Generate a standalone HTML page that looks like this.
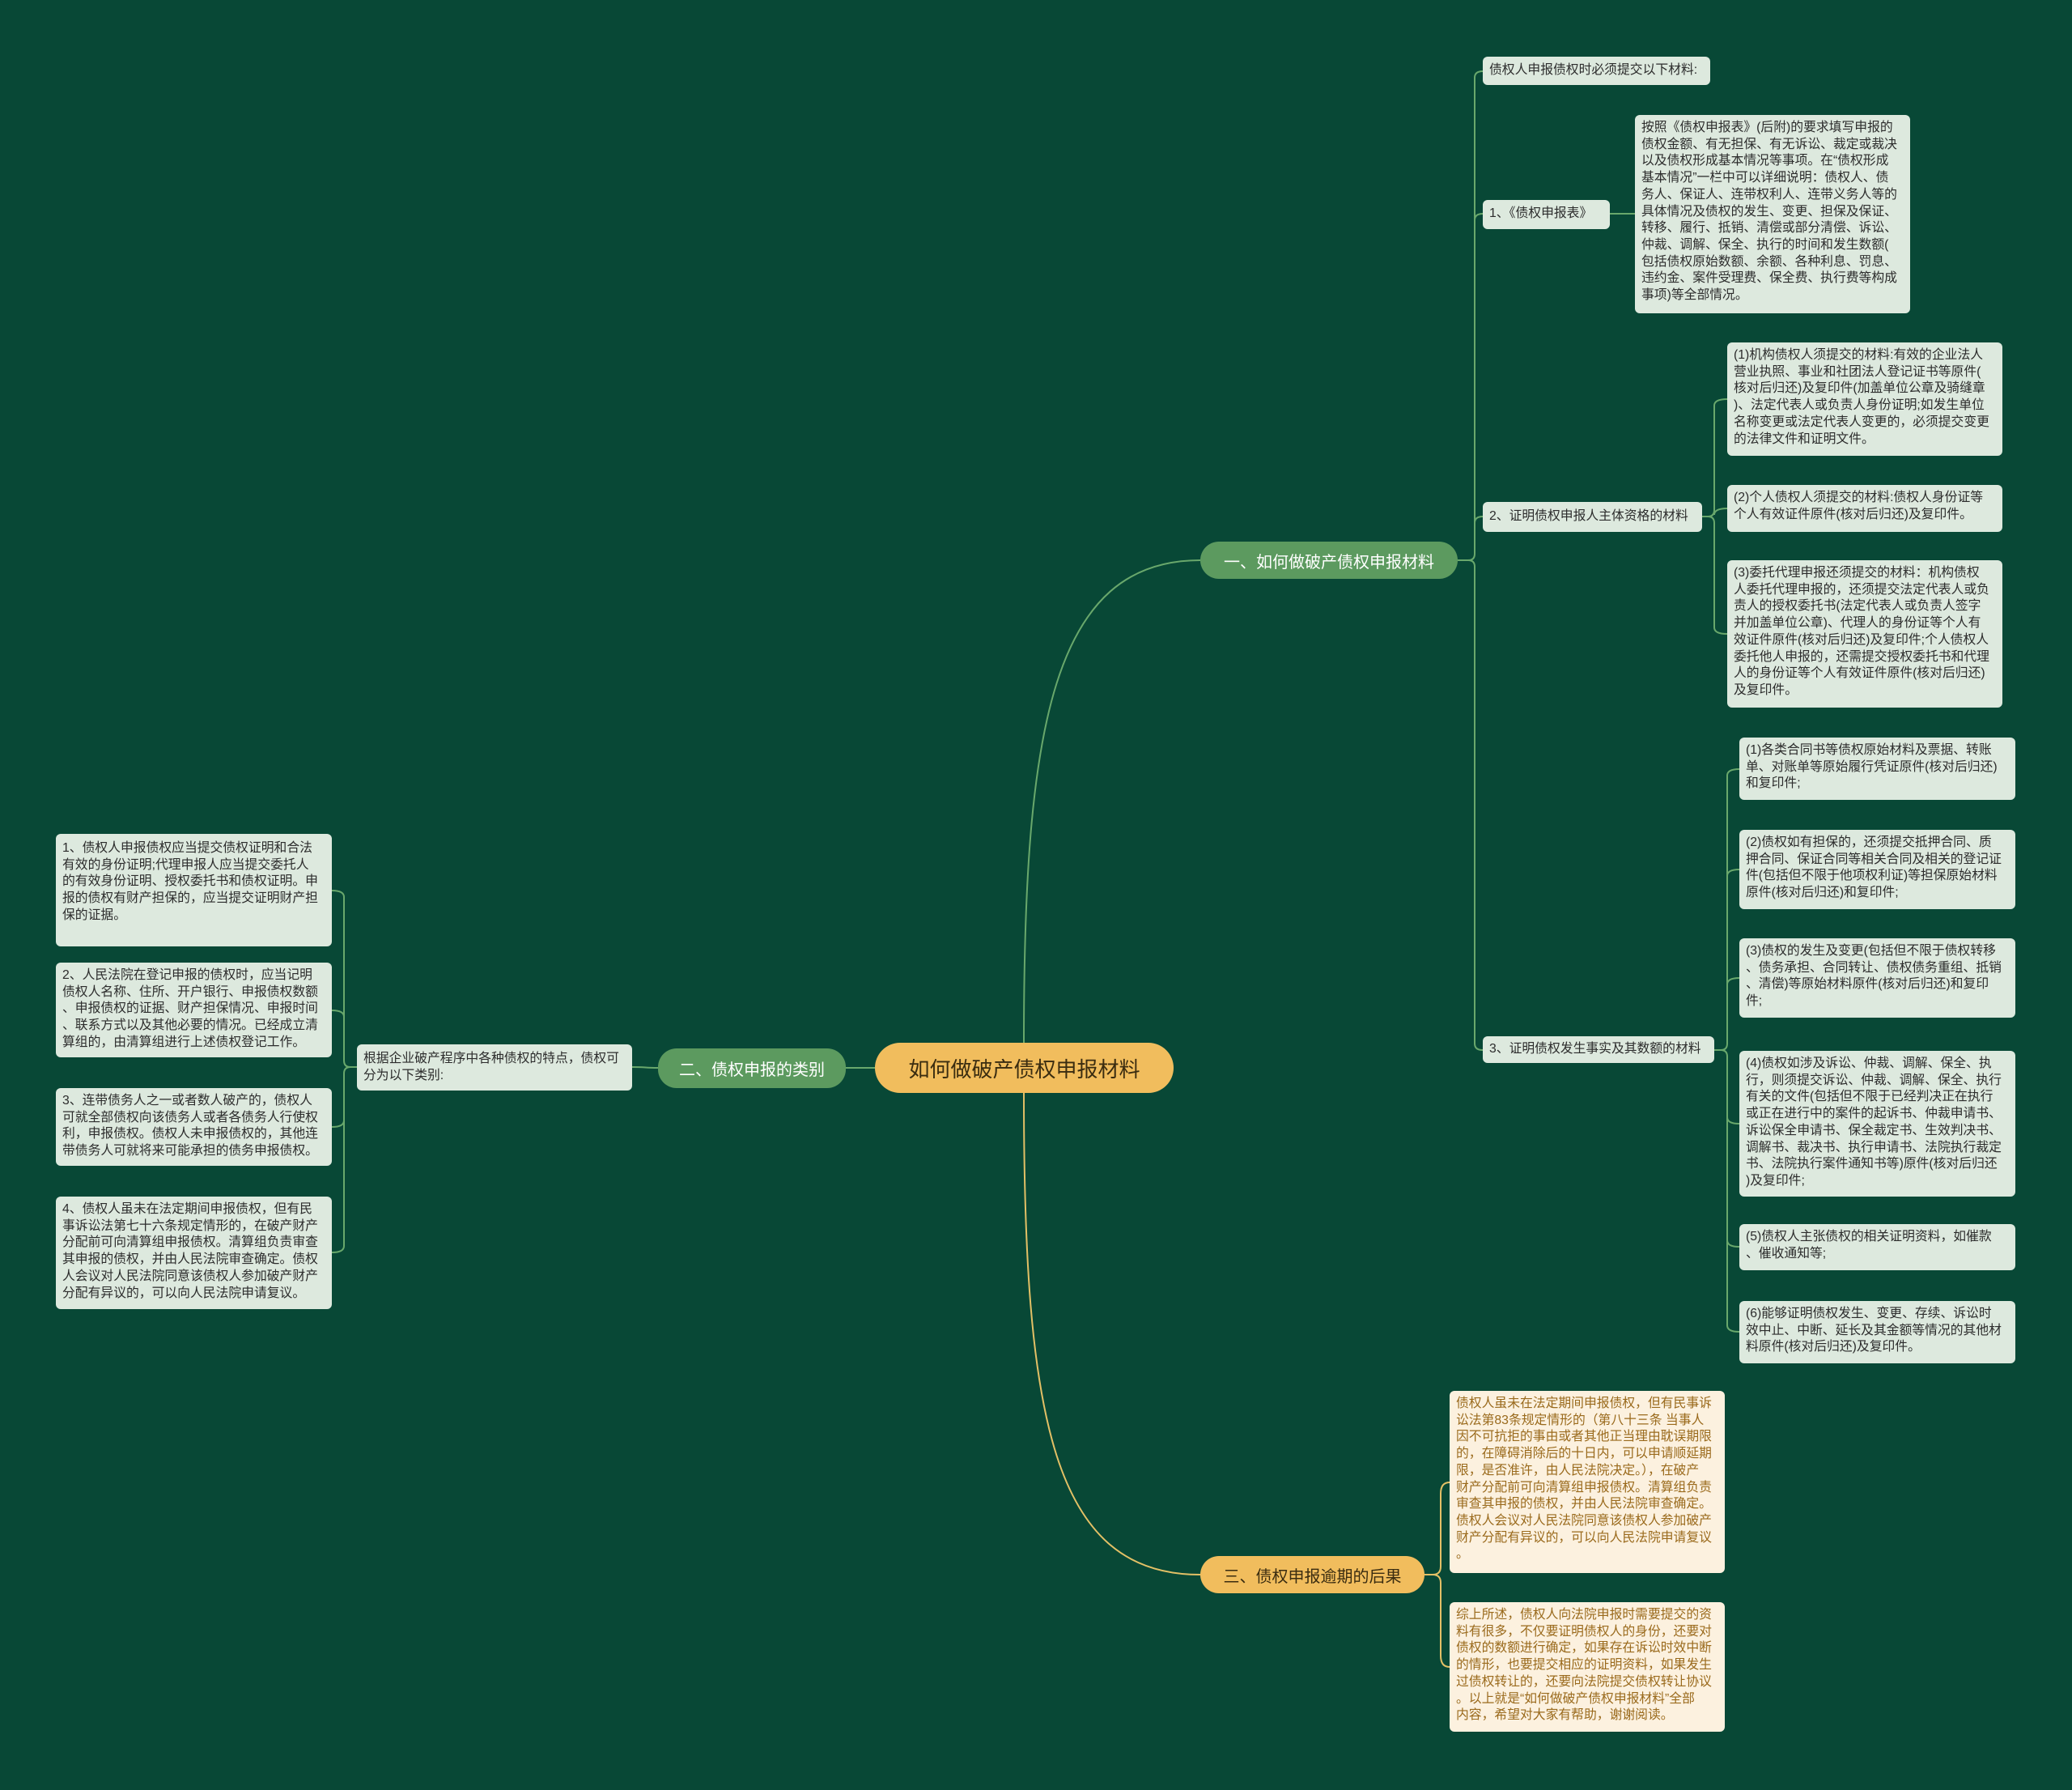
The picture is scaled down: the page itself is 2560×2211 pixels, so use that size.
<!DOCTYPE html>
<html><head><meta charset="utf-8">
<style>
body{margin:0;width:2560px;height:2211px;background:#084836;position:relative;overflow:hidden;font-family:"Liberation Sans","Noto Sans CJK SC",sans-serif;}
.n{position:absolute;box-sizing:border-box;background:#dde9de;color:#2c2c2c;border-radius:6px;font-size:15.8px;line-height:20.7px;padding:6px 8px;white-space:nowrap;overflow:hidden;}
.c{background:#fcf1df;color:#9a6a1c;}
.b{position:absolute;box-sizing:border-box;border-radius:23px;display:flex;align-items:center;justify-content:center;white-space:nowrap;}
svg{position:absolute;left:0;top:0;}
</style></head><body>
<svg width="2560" height="2211" fill="none" stroke-width="2">
<g stroke="#69a86c">
<path d="M1265 1288 C1265 900 1300 692 1483 692"/>
<path d="M1081 1319 L1045 1319"/>
<path d="M1801 692 L1814 692 Q1822 692 1822 684 L1822 96 Q1822 88 1832 88"/>
<path d="M1822 272 Q1822 264 1832 264"/>
<path d="M1822 646 Q1822 638 1832 638"/>
<path d="M1801 692 L1814 692 Q1822 692 1822 700 L1822 1289 Q1822 1297 1832 1297"/>
<path d="M1989 264 L2020 264"/>
<path d="M2103 638 L2110 638 Q2118 638 2118 630 L2118 501 Q2118 493 2134 493"/>
<path d="M2118 636 Q2118 628 2134 628"/>
<path d="M2103 638 L2110 638 Q2118 638 2118 646 L2118 775 Q2118 783 2134 783"/>
<path d="M2118 1297 L2126 1297 Q2134 1297 2134 1289 L2134 958 Q2134 950 2149 950"/>
<path d="M2134 1082 Q2134 1074 2149 1074"/>
<path d="M2134 1216 Q2134 1208 2149 1208"/>
<path d="M2118 1297 L2126 1297 Q2134 1297 2134 1305 L2134 1637 Q2134 1645 2149 1645"/>
<path d="M2134 1380 Q2134 1388 2149 1388"/>
<path d="M2134 1532 Q2134 1540 2149 1540"/>
<path d="M813 1319 C795 1319 800 1318 781 1318"/>
<path d="M441 1318 L433 1318 Q425 1318 425 1310 L425 1108 Q425 1100 410 1100"/>
<path d="M425 1256 Q425 1248 410 1248"/>
<path d="M441 1318 L433 1318 Q425 1318 425 1326 L425 1539 Q425 1547 410 1547"/>
<path d="M425 1384 Q425 1392 410 1392"/>
</g>
<g stroke="#e3c066">
<path d="M1265 1350 C1265 1750 1300 1945 1483 1945"/>
<path d="M1760 1945 L1770 1945 Q1780 1945 1780 1935 L1780 1845 Q1780 1831 1791 1831"/>
<path d="M1770 1945 Q1780 1945 1780 1955 L1780 2045 Q1780 2059 1791 2059"/>
</g>
</svg>

<div class="b" style="left:1081px;top:1288px;width:369px;height:62px;border-radius:31px;background:#f1bd5d;color:#3a2c10;font-size:26px;">如何做破产债权申报材料</div>
<div class="b" style="left:1483px;top:669px;width:318px;height:46px;background:#5c9a5f;color:#fff;font-size:20px;">一、如何做破产债权申报材料</div>
<div class="b" style="left:813px;top:1295px;width:232px;height:49px;background:#5c9a5f;color:#fff;font-size:20px;">二、债权申报的类别</div>
<div class="b" style="left:1483px;top:1922px;width:277px;height:46px;background:#f1bd5d;color:#3a2c10;font-size:20px;">三、债权申报逾期的后果</div>

<div class="n" style="left:1832px;top:70px;width:281px;height:35px;padding-top:7px;">债权人申报债权时必须提交以下材料:</div>
<div class="n" style="left:1832px;top:247px;width:157px;height:36px;padding-top:7px;">1、《债权申报表》</div>
<div class="n" style="left:2020px;top:142px;width:340px;height:245px;">按照《债权申报表》(后附)的要求填写申报的<br>债权金额、有无担保、有无诉讼、裁定或裁决<br>以及债权形成基本情况等事项。在“债权形成<br>基本情况”一栏中可以详细说明：债权人、债<br>务人、保证人、连带权利人、连带义务人等的<br>具体情况及债权的发生、变更、担保及保证、<br>转移、履行、抵销、清偿或部分清偿、诉讼、<br>仲裁、调解、保全、执行的时间和发生数额(<br>包括债权原始数额、余额、各种利息、罚息、<br>违约金、案件受理费、保全费、执行费等构成<br>事项)等全部情况。</div>
<div class="n" style="left:1832px;top:620px;width:271px;height:37px;padding-top:8px;">2、证明债权申报人主体资格的材料</div>
<div class="n" style="left:2134px;top:423px;width:340px;height:140px;">(1)机构债权人须提交的材料:有效的企业法人<br>营业执照、事业和社团法人登记证书等原件(<br>核对后归还)及复印件(加盖单位公章及骑缝章<br>)、法定代表人或负责人身份证明;如发生单位<br>名称变更或法定代表人变更的，必须提交变更<br>的法律文件和证明文件。</div>
<div class="n" style="left:2134px;top:599px;width:340px;height:58px;">(2)个人债权人须提交的材料:债权人身份证等<br>个人有效证件原件(核对后归还)及复印件。</div>
<div class="n" style="left:2134px;top:692px;width:340px;height:182px;">(3)委托代理申报还须提交的材料：机构债权<br>人委托代理申报的，还须提交法定代表人或负<br>责人的授权委托书(法定代表人或负责人签字<br>并加盖单位公章)、代理人的身份证等个人有<br>效证件原件(核对后归还)及复印件;个人债权人<br>委托他人申报的，还需提交授权委托书和代理<br>人的身份证等个人有效证件原件(核对后归还)<br>及复印件。</div>
<div class="n" style="left:1832px;top:1280px;width:286px;height:33px;padding-top:6px;">3、证明债权发生事实及其数额的材料</div>
<div class="n" style="left:2149px;top:911px;width:341px;height:77px;">(1)各类合同书等债权原始材料及票据、转账<br>单、对账单等原始履行凭证原件(核对后归还)<br>和复印件;</div>
<div class="n" style="left:2149px;top:1025px;width:341px;height:98px;">(2)债权如有担保的，还须提交抵押合同、质<br>押合同、保证合同等相关合同及相关的登记证<br>件(包括但不限于他项权利证)等担保原始材料<br>原件(核对后归还)和复印件;</div>
<div class="n" style="left:2149px;top:1159px;width:341px;height:98px;">(3)债权的发生及变更(包括但不限于债权转移<br>、债务承担、合同转让、债权债务重组、抵销<br>、清偿)等原始材料原件(核对后归还)和复印<br>件;</div>
<div class="n" style="left:2149px;top:1298px;width:341px;height:180px;">(4)债权如涉及诉讼、仲裁、调解、保全、执<br>行，则须提交诉讼、仲裁、调解、保全、执行<br>有关的文件(包括但不限于已经判决正在执行<br>或正在进行中的案件的起诉书、仲裁申请书、<br>诉讼保全申请书、保全裁定书、生效判决书、<br>调解书、裁决书、执行申请书、法院执行裁定<br>书、法院执行案件通知书等)原件(核对后归还<br>)及复印件;</div>
<div class="n" style="left:2149px;top:1512px;width:341px;height:57px;">(5)债权人主张债权的相关证明资料，如催款<br>、催收通知等;</div>
<div class="n" style="left:2149px;top:1607px;width:341px;height:77px;">(6)能够证明债权发生、变更、存续、诉讼时<br>效中止、中断、延长及其金额等情况的其他材<br>料原件(核对后归还)及复印件。</div>

<div class="n" style="left:441px;top:1290px;width:340px;height:57px;padding-top:8px;">根据企业破产程序中各种债权的特点，债权可<br>分为以下类别:</div>
<div class="n" style="left:69px;top:1030px;width:341px;height:139px;padding-top:8px;">1、债权人申报债权应当提交债权证明和合法<br>有效的身份证明;代理申报人应当提交委托人<br>的有效身份证明、授权委托书和债权证明。申<br>报的债权有财产担保的，应当提交证明财产担<br>保的证据。</div>
<div class="n" style="left:69px;top:1189px;width:341px;height:117px;">2、人民法院在登记申报的债权时，应当记明<br>债权人名称、住所、开户银行、申报债权数额<br>、申报债权的证据、财产担保情况、申报时间<br>、联系方式以及其他必要的情况。已经成立清<br>算组的，由清算组进行上述债权登记工作。</div>
<div class="n" style="left:69px;top:1344px;width:341px;height:96px;">3、连带债务人之一或者数人破产的，债权人<br>可就全部债权向该债务人或者各债务人行使权<br>利，申报债权。债权人未申报债权的，其他连<br>带债务人可就将来可能承担的债务申报债权。</div>
<div class="n" style="left:69px;top:1478px;width:341px;height:139px;">4、债权人虽未在法定期间申报债权，但有民<br>事诉讼法第七十六条规定情形的，在破产财产<br>分配前可向清算组申报债权。清算组负责审查<br>其申报的债权，并由人民法院审查确定。债权<br>人会议对人民法院同意该债权人参加破产财产<br>分配有异议的，可以向人民法院申请复议。</div>

<div class="n c" style="left:1791px;top:1718px;width:340px;height:225px;">债权人虽未在法定期间申报债权，但有民事诉<br>讼法第83条规定情形的（第八十三条 当事人<br>因不可抗拒的事由或者其他正当理由耽误期限<br>的，在障碍消除后的十日内，可以申请顺延期<br>限，是否准许，由人民法院决定。），在破产<br>财产分配前可向清算组申报债权。清算组负责<br>审查其申报的债权，并由人民法院审查确定。<br>债权人会议对人民法院同意该债权人参加破产<br>财产分配有异议的，可以向人民法院申请复议<br>。</div>
<div class="n c" style="left:1791px;top:1979px;width:340px;height:160px;">综上所述，债权人向法院申报时需要提交的资<br>料有很多，不仅要证明债权人的身份，还要对<br>债权的数额进行确定，如果存在诉讼时效中断<br>的情形，也要提交相应的证明资料，如果发生<br>过债权转让的，还要向法院提交债权转让协议<br>。以上就是“如何做破产债权申报材料”全部<br>内容，希望对大家有帮助，谢谢阅读。</div>
</body></html>
